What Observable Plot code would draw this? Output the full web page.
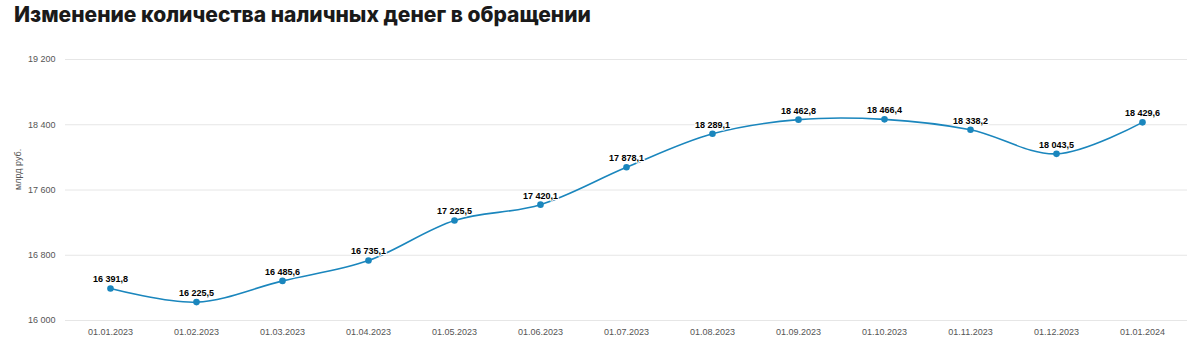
<!DOCTYPE html>
<html>
<head>
<meta charset="utf-8">
<script src="https://cdn.jsdelivr.net/npm/d3@7"></script>
<script src="https://cdn.jsdelivr.net/npm/@observablehq/plot@0.6"></script>
<style>
  body { margin: 0; background: #fff; font-family: "Liberation Sans", Arial, sans-serif; }
  #title { font-family: Inter, "Noto Sans", sans-serif; font-weight: 800; font-size: 21px; line-height: 26px; color: #1a1a1a; margin: 0; padding: 2px 0 0 14px; height: 40px; box-sizing: border-box; }
</style>
</head>
<body>
<div id="title">Изменение количества наличных денег в обращении</div>
<div id="chart"></div>
<script>
const dates = ["01.01.2023","01.02.2023","01.03.2023","01.04.2023","01.05.2023","01.06.2023","01.07.2023","01.08.2023","01.09.2023","01.10.2023","01.11.2023","01.12.2023","01.01.2024"];
const values = [16391.8,16225.5,16485.6,16735.1,17225.5,17420.1,17878.1,18289.1,18462.8,18466.4,18338.2,18043.5,18429.6];
const yTicks = [16000,16800,17600,18400,19200];

const data = dates.map((d,i)=>({date:d, value:values[i]}));
const fmtVal = v => {
  const [int, dec] = v.toFixed(1).split(".");
  return int.replace(/\B(?=(\d{3})+(?!\d))/g, " ") + "," + dec;
};
const fmtTick = v => String(v).replace(/\B(?=(\d{3})+(?!\d))/g, " ");

const chart = Plot.plot({
  width: 1200,
  height: 313,
  marginTop: 19,
  marginBottom: 33,
  marginLeft: 65,
  marginRight: 13,
  style: {fontFamily: "'Liberation Sans', Arial, sans-serif", fontSize: "9px", color: "#555", background: "#fff"},
  x: {type: "point", domain: dates, padding: 0.5, label: null, tickSize: 0, tickPadding: 8},
  y: {domain: [16000, 19200], ticks: yTicks, tickFormat: fmtTick, tickSize: 0, tickPadding: 10, label: null, grid: false},
  marks: [
    Plot.ruleY(yTicks, {stroke: "#e6e6e6", strokeWidth: 1}),
    Plot.axisY({ticks: yTicks, tickFormat: fmtTick, tickSize: 0, tickPadding: 10, label: null, fill: "#555"}),
    Plot.axisX({tickSize: 0, tickPadding: 8, label: null, fill: "#555"}),
    Plot.line(data, {x: "date", y: "value", stroke: "#1a86bd", strokeWidth: 1.6, curve: "catmull-rom"}),
    Plot.dot(data, {x: "date", y: "value", r: 3.3, fill: "#1a86bd", stroke: "none"}),
    Plot.text(data, {x: "date", y: "value", text: d => fmtVal(d.value), dy: -9, fontWeight: "bold", fontSize: 9, fill: "#000", stroke: "#fff", strokeWidth: 2, paintOrder: "stroke"}),
    Plot.text(["млрд руб."], {frameAnchor: "left", dx: -47, rotate: -90, fontSize: 9, fill: "#555"})
  ]
});
document.getElementById("chart").appendChild(chart);
</script>
</body>
</html>
